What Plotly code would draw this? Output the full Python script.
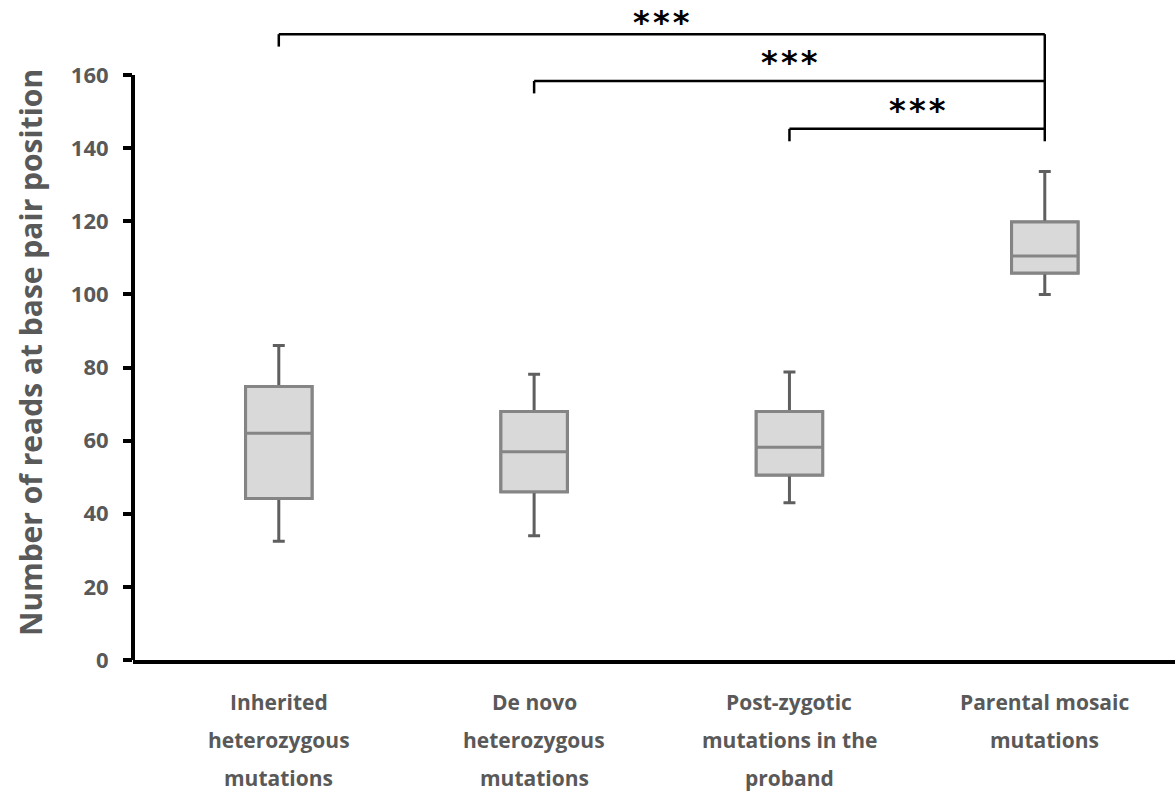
import plotly.graph_objects as go

# Group labels (line breaks as drawn under the axis)
categories = [
    "Inherited<br>heterozygous<br>mutations",
    "De novo<br>heterozygous<br>mutations",
    "Post-zygotic<br>mutations in the<br>proband",
    "Parental mosaic<br>mutations",
]

# Box statistics per group
lower_whisker = [32.5, 34.0, 43.0, 100.0]
q1 = [44.2, 46.0, 50.6, 105.9]
median = [62.0, 57.0, 58.2, 110.5]
q3 = [74.8, 68.0, 68.0, 119.8]
upper_whisker = [86.0, 78.2, 78.8, 133.6]

y_ticks = [0, 20, 40, 60, 80, 100, 120, 140, 160]

# Significance comparisons: (left group, right group, bracket height, label)
comparisons = [
    (0, 3, 171.2, "***"),
    (1, 3, 158.4, "***"),
    (2, 3, 145.3, "***"),
]

FONT = "Open Sans"
STAR_FONT = "DejaVu Sans"
GRAY_TXT = "#595959"

xpos = list(range(len(categories)))

fig = go.Figure()

# Whiskers (darker gray) drawn from the full statistics
fig.add_trace(go.Box(
    x=xpos, q1=q1, median=median, q3=q3,
    lowerfence=lower_whisker, upperfence=upper_whisker,
    width=0.26, whiskerwidth=0.18,
    line=dict(color="#5f5f5f", width=3),
    fillcolor="#d9d9d9", boxpoints=False, showlegend=False,
    hoverinfo="skip",
))
# Box body and median line on top
fig.add_trace(go.Box(
    x=xpos, q1=q1, median=median, q3=q3,
    lowerfence=q1, upperfence=q3,
    width=0.26, whiskerwidth=0,
    line=dict(color="#858585", width=3),
    fillcolor="#d9d9d9", boxpoints=False, showlegend=False,
))

shapes = []
annotations = []

# y axis line stops at the top tick
shapes.append(dict(type="line", xref="paper", yref="y", x0=0, x1=0,
                   y0=0, y1=y_ticks[-1], line=dict(color="black", width=4)))

# Brackets with significance stars
drop = 3.4
star_gap = [12, 19, 19]  # pixels between bracket and star row
for k, (left, right, h, label) in enumerate(comparisons):
    shapes.append(dict(type="line", xref="x", yref="y", x0=left, x1=right,
                       y0=h, y1=h, line=dict(color="black", width=2.5)))
    shapes.append(dict(type="line", xref="x", yref="y", x0=left, x1=left,
                       y0=h, y1=h - drop, line=dict(color="black", width=2.5)))
    spaced = "\u200a".join(label)  # hair spaces widen the star row a little
    annotations.append(dict(x=(left + right) / 2, y=h, xref="x", yref="y",
                            text=spaced, showarrow=False, yanchor="middle",
                            xanchor="center", yshift=star_gap[k],
                            font=dict(family=STAR_FONT, size=32, color="black",
                                      weight="bold")))
# Shared right leg of all brackets
shapes.append(dict(type="line", xref="x", yref="y", x0=3, x1=3,
                   y0=comparisons[0][2], y1=comparisons[-1][2] - drop,
                   line=dict(color="black", width=2.5)))

# Category labels under the axis, one annotation per line for wider spacing
for i, cat in enumerate(categories):
    for j, line in enumerate(cat.split("<br>")):
        annotations.append(dict(x=i, y=0, xref="x", yref="y", text=line,
                                showarrow=False, yanchor="middle",
                                xanchor="center", yshift=-42 - 38 * j,
                                font=dict(family=FONT, size=21, color=GRAY_TXT,
                                          weight="bold")))

# y axis title
annotations.append(dict(x=0, y=84, xref="paper", yref="y",
                        text="Number of reads at base pair position",
                        textangle=-90, showarrow=False, xshift=-102,
                        xanchor="center", yanchor="middle",
                        font=dict(family=FONT, size=30, color=GRAY_TXT,
                                  weight="bold")))

fig.update_layout(
    width=1175, height=794,
    margin=dict(l=133, r=0, t=2, b=134),
    paper_bgcolor="white", plot_bgcolor="white",
    boxmode="overlay",
    shapes=shapes, annotations=annotations,
    xaxis=dict(range=[-0.571, 3.51], showgrid=False, zeroline=False,
               showline=True, linecolor="black", linewidth=4,
               showticklabels=False, ticks=""),
    yaxis=dict(range=[0, 180], tickvals=y_ticks, showgrid=False,
               zeroline=False, showline=False, ticks="outside",
               ticklen=9, tickwidth=4, tickcolor="black",
               ticklabelstandoff=10,
               tickfont=dict(family=FONT, size=22, color=GRAY_TXT,
                             weight="bold")),
)

fig.write_html("out.html")
